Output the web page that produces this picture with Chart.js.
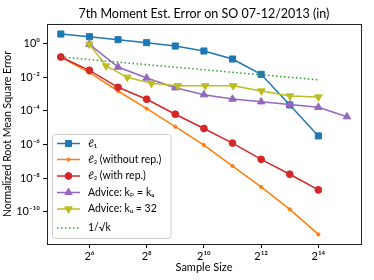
<!DOCTYPE html>
<html><head><meta charset="utf-8">
<script src="https://cdn.jsdelivr.net/npm/chart.js@4/dist/chart.umd.min.js"></script>
<style>html,body{margin:0;padding:0;background:#fff}</style>
</head><body><canvas id="c" width="374" height="280" style="width:374px;height:280px"></canvas>
<script>
// ---- data ----
const chartTitle = '7th Moment Est. Error on SO 07-12/2013 (in)';
const xAxisLabel = 'Sample Size';
const yAxisLabel = 'Normalized Root Mean Square Error';
const sampleSizes = [32, 64, 128, 256, 512, 1024, 2048, 4096, 8192, 16384];
const sampleSizesAdviceP = [64, 128, 256, 512, 1024, 2048, 4096, 8192, 16384, 32768];
const sampleSizesAdviceU = [64, 96, 160, 288, 544, 1056, 2080, 4128, 8224, 16416];
const l1Error = [3.56, 2.46, 1.64, 1.09, 0.69, 0.35, 0.117, 0.0145, 2.2e-4, 3.2e-6];
const l2NoRepError = [0.154, 0.018, 1.48e-3, 1.32e-4, 1.12e-5, 9.2e-7, 5.2e-8, 3.0e-9, 1.4e-10, 4.6e-12];
const l2RepError = [0.154, 0.025, 2.45e-3, 4.8e-4, 6.2e-5, 8.8e-6, 1.2e-6, 1.3e-7, 1.7e-8, 2.0e-9];
const adviceKpKuError = [0.87, 0.039, 8.7e-3, 2.3e-3, 8.9e-4, 4.9e-4, 3.4e-4, 2.3e-4, 1.6e-4, 4.4e-5];
const adviceKu32Error = [0.87, 0.045, 9.6e-3, 4.2e-3, 3.0e-3, 3.0e-3, 3.0e-3, 1.48e-3, 7.5e-4, 6.5e-4];
const invSqrtK = [0.154, 0.109, 0.077, 0.054, 0.0385, 0.027, 0.019, 0.0136, 0.0096, 0.0068];
const seriesLabels = ['ℓ₁', 'ℓ₂ (without rep.)', 'ℓ₂ (with rep.)', 'Advice: kₚ = kᵤ', 'Advice: kᵤ = 32', '1/√k'];
const xTickValues = [64, 256, 1024, 4096, 16384];
const xTickLabels = ['2⁶', '2⁸', '2¹⁰', '2¹²', '2¹⁴'];
const yTickValues = [1, 1e-2, 1e-4, 1e-6, 1e-8, 1e-10];
const yTickLabels = ['10⁰', '10⁻²', '10⁻⁴', '10⁻⁶', '10⁻⁸', '10⁻¹⁰'];

const FONT = 'Lato, "DejaVu Sans", sans-serif';
const pts = (xs, ys) => xs.map((x, i) => ({x: x, y: ys[i]}));

const styles = [
  {color: '#1f77b4', pointStyle: 'rect', radius: 4.3, rotation: 0, dash: []},
  {color: '#ff7f0e', pointStyle: 'circle', radius: 1.6, rotation: 0, dash: []},
  {color: '#d62728', pointStyle: 'circle', radius: 3.4, rotation: 0, dash: []},
  {color: '#9467bd', pointStyle: 'triangle', radius: 4.3, rotation: 0, dash: []},
  {color: '#bcbd22', pointStyle: 'triangle', radius: 4.3, rotation: 180, dash: []},
  {color: '#2ca02c', pointStyle: false, radius: 0, rotation: 0, dash: [1.5, 2.5]}
];
const dataSets = [
  pts(sampleSizes, l1Error),
  pts(sampleSizes, l2NoRepError),
  pts(sampleSizes, l2RepError),
  pts(sampleSizesAdviceP, adviceKpKuError),
  pts(sampleSizesAdviceU, adviceKu32Error),
  pts(sampleSizes, invSqrtK)
];

const datasets = dataSets.map((d, i) => ({
  label: seriesLabels[i],
  data: d,
  borderColor: styles[i].color,
  backgroundColor: styles[i].color,
  pointBackgroundColor: styles[i].color,
  pointBorderColor: styles[i].color,
  borderWidth: 1.5,
  pointBorderWidth: 1,
  borderDash: styles[i].dash,
  pointStyle: styles[i].pointStyle,
  pointRadius: styles[i].radius,
  pointRotation: styles[i].rotation,
  tension: 0,
  order: 5 - i
}));

const framePlugin = {
  id: 'frame',
  afterDatasetsDraw(chart) {
    const {ctx, chartArea: a} = chart;
    ctx.save();
    ctx.strokeStyle = '#222';
    ctx.lineWidth = 1;
    ctx.strokeRect(Math.round(a.left) + 0.5, Math.round(a.top) + 0.5, Math.round(a.right - a.left), Math.round(a.bottom - a.top));
    // title centred over the plot area
    ctx.fillStyle = '#000';
    ctx.font = '12.5px ' + FONT;
    ctx.textAlign = 'center';
    ctx.textBaseline = 'middle';
    ctx.fillText(chartTitle, (a.left + a.right) / 2, 14);
    ctx.restore();
  }
};

const legendPlugin = {
  id: 'customLegend',
  afterDatasetsDraw(chart) {
    const ctx = chart.ctx;
    const bx = 52.5, by = 134.5, bw = 118.5, bh = 104;
    ctx.save();
    ctx.beginPath();
    if (ctx.roundRect) ctx.roundRect(bx, by, bw, bh, 3); else ctx.rect(bx, by, bw, bh);
    ctx.fillStyle = 'rgba(255,255,255,0.85)';
    ctx.fill();
    ctx.strokeStyle = '#cccccc';
    ctx.lineWidth = 1;
    ctx.stroke();
    const rowY = [143.5, 159.5, 176, 192.5, 209, 228];
    chart.data.datasets.forEach((ds, i) => {
      const y = rowY[i];
      const st = styles[i];
      ctx.save();
      ctx.strokeStyle = st.color;
      ctx.lineWidth = 1.5;
      ctx.setLineDash(st.dash);
      ctx.beginPath();
      ctx.moveTo(57, y);
      ctx.lineTo(80, y);
      ctx.stroke();
      ctx.restore();
      if (st.pointStyle) {
        ctx.save();
        ctx.fillStyle = st.color;
        ctx.strokeStyle = st.color;
        ctx.lineWidth = 1;
        Chart.helpers.drawPoint(ctx, {pointStyle: st.pointStyle, radius: st.radius, rotation: st.rotation, borderWidth: 1}, 68.5, y);
        ctx.restore();
      }
      ctx.fillStyle = '#000';
      ctx.font = '10.5px ' + FONT;
      ctx.textBaseline = 'middle';
      ctx.textAlign = 'left';
      ctx.fillText(ds.label, 88, y);
    });
    ctx.restore();
  }
};

new Chart(document.getElementById('c'), {
  type: 'line',
  data: {datasets: datasets},
  options: {
    responsive: false,
    animation: false,
    devicePixelRatio: 1,
    layout: {padding: {left: 0, right: 13, top: 24, bottom: 0}},
    plugins: {
      legend: {display: false},
      tooltip: {enabled: false},
      title: {display: false}
    },
    scales: {
      x: {
        type: 'logarithmic',
        min: 22.9, max: 46000,
        afterBuildTicks: s => { s.ticks = xTickValues.map(v => ({value: v})); },
        afterFit: s => { s.height = 36; },
        ticks: {
          autoSkip: false, maxRotation: 0, padding: 2, color: '#000',
          font: {family: FONT, size: 11},
          callback: (v, i) => xTickLabels[i]
        },
        grid: {drawOnChartArea: false, drawTicks: true, tickLength: 4, color: '#000'},
        border: {display: true, color: '#222'},
        title: {display: true, text: xAxisLabel, color: '#000', font: {family: FONT, size: 11}, padding: {top: 0, bottom: 6}}
      },
      y: {
        type: 'logarithmic',
        min: 1.23e-12, max: 14.0,
        afterBuildTicks: s => { s.ticks = yTickValues.map(v => ({value: v})); },
        afterFit: s => { s.width = 47; },
        ticks: {
          autoSkip: false, padding: 3, color: '#000',
          font: {family: FONT, size: 11},
          callback: (v, i) => yTickLabels[i]
        },
        grid: {drawOnChartArea: false, drawTicks: true, tickLength: 4, color: '#000'},
        border: {display: true, color: '#222'},
        title: {display: true, text: yAxisLabel, color: '#000', font: {family: FONT, size: 10.5}, padding: {top: 1, bottom: 0}}
      }
    }
  },
  plugins: [framePlugin, legendPlugin]
});
</script>
</body></html>
